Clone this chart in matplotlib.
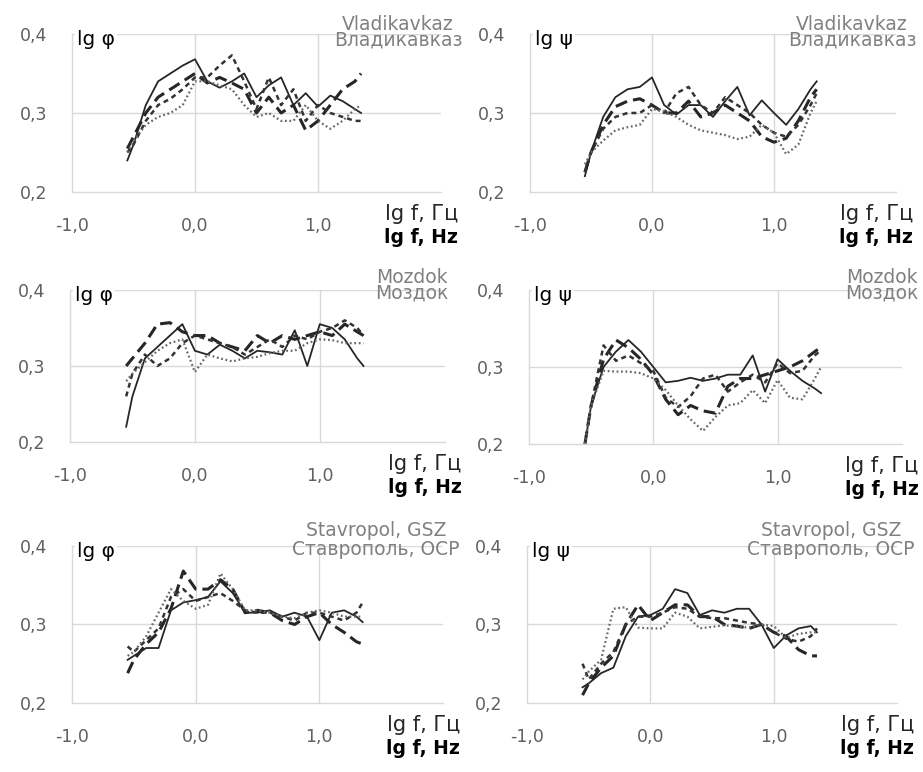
import numpy as np
import matplotlib
matplotlib.use("Agg")
import matplotlib.pyplot as plt
from matplotlib.ticker import FixedLocator

plt.rcParams['font.family'] = ['DejaVu Sans']

# lg f grid, common to all curves
freq = [-0.55, -0.5, -0.4, -0.3, -0.2, -0.1, 0.0, 0.1, 0.2, 0.3, 0.4,
        0.5, 0.6, 0.7, 0.8, 0.9, 1.0, 1.1, 1.2, 1.3, 1.35]

# Vladikavkaz, lg phi
vlad_phi_solid = [0.24, 0.26, 0.31, 0.34, 0.35, 0.36, 0.368, 0.34, 0.332, 0.34, 0.35,
                  0.32, 0.335, 0.345, 0.31, 0.325, 0.308, 0.322, 0.315, 0.305, 0.30]
vlad_phi_long = [0.255, 0.27, 0.30, 0.32, 0.33, 0.34, 0.35, 0.338, 0.345, 0.338, 0.33,
                 0.30, 0.32, 0.30, 0.31, 0.278, 0.29, 0.31, 0.33, 0.34, 0.35]
vlad_phi_short = [0.25, 0.26, 0.29, 0.31, 0.318, 0.33, 0.345, 0.345, 0.36, 0.373, 0.34,
                  0.305, 0.345, 0.31, 0.33, 0.29, 0.31, 0.30, 0.295, 0.29, 0.29]
vlad_phi_dot = [0.25, 0.265, 0.285, 0.295, 0.30, 0.31, 0.34, 0.34, 0.335, 0.33, 0.31,
                0.295, 0.30, 0.29, 0.29, 0.31, 0.29, 0.28, 0.29, 0.305, 0.31]

# Vladikavkaz, lg psi
vlad_psi_solid = [0.22, 0.25, 0.295, 0.32, 0.33, 0.333, 0.345, 0.31, 0.298, 0.31, 0.31,
                  0.295, 0.315, 0.333, 0.297, 0.316, 0.30, 0.285, 0.305, 0.33, 0.34]
vlad_psi_long = [0.225, 0.25, 0.285, 0.308, 0.315, 0.318, 0.31, 0.30, 0.30, 0.315, 0.295,
                 0.30, 0.31, 0.30, 0.29, 0.27, 0.263, 0.268, 0.29, 0.32, 0.33]
vlad_psi_short = [0.225, 0.25, 0.28, 0.295, 0.30, 0.30, 0.31, 0.30, 0.325, 0.333, 0.31,
                  0.30, 0.32, 0.31, 0.30, 0.285, 0.275, 0.27, 0.285, 0.31, 0.325]
vlad_psi_dot = [0.235, 0.25, 0.265, 0.278, 0.282, 0.285, 0.305, 0.302, 0.295, 0.285, 0.278,
                0.275, 0.272, 0.267, 0.27, 0.285, 0.275, 0.248, 0.26, 0.30, 0.315]

# Mozdok, lg phi
moz_phi_solid = [0.22, 0.26, 0.31, 0.325, 0.34, 0.355, 0.32, 0.315, 0.328, 0.32, 0.31,
                 0.32, 0.318, 0.315, 0.347, 0.30, 0.355, 0.35, 0.335, 0.31, 0.30]
moz_phi_long = [0.30, 0.31, 0.33, 0.355, 0.357, 0.345, 0.34, 0.34, 0.33, 0.325, 0.32,
                0.34, 0.33, 0.34, 0.335, 0.34, 0.345, 0.34, 0.355, 0.345, 0.34]
moz_phi_short = [0.26, 0.29, 0.315, 0.30, 0.31, 0.33, 0.34, 0.335, 0.33, 0.325, 0.315,
                 0.325, 0.335, 0.325, 0.34, 0.335, 0.345, 0.35, 0.36, 0.35, 0.34]
moz_phi_dot = [0.28, 0.29, 0.305, 0.32, 0.33, 0.335, 0.292, 0.315, 0.31, 0.306, 0.31,
               0.312, 0.317, 0.32, 0.32, 0.33, 0.335, 0.334, 0.33, 0.33, 0.33]

# Mozdok, lg psi
moz_psi_solid = [0.20, 0.25, 0.30, 0.32, 0.335, 0.32, 0.30, 0.28, 0.282, 0.286, 0.282,
                 0.285, 0.29, 0.29, 0.315, 0.268, 0.31, 0.295, 0.282, 0.272, 0.266]
moz_psi_long = [0.20, 0.25, 0.31, 0.335, 0.325, 0.31, 0.29, 0.258, 0.238, 0.25, 0.243,
                0.24, 0.275, 0.285, 0.285, 0.29, 0.295, 0.30, 0.308, 0.32, 0.326]
moz_psi_short = [0.20, 0.25, 0.328, 0.308, 0.315, 0.305, 0.295, 0.26, 0.248, 0.262, 0.285,
                 0.29, 0.268, 0.28, 0.29, 0.28, 0.305, 0.292, 0.295, 0.315, 0.322]
moz_psi_dot = [0.20, 0.25, 0.295, 0.294, 0.294, 0.292, 0.285, 0.27, 0.25, 0.232, 0.217,
               0.235, 0.25, 0.253, 0.27, 0.253, 0.283, 0.26, 0.258, 0.285, 0.30]

# Stavropol, lg phi
stav_phi_solid = [0.255, 0.26, 0.27, 0.27, 0.318, 0.328, 0.331, 0.335, 0.355, 0.34, 0.315,
                  0.315, 0.318, 0.31, 0.315, 0.31, 0.28, 0.315, 0.318, 0.31, 0.303]
stav_phi_long = [0.238, 0.255, 0.275, 0.29, 0.32, 0.368, 0.345, 0.345, 0.357, 0.345, 0.315,
                 0.318, 0.315, 0.305, 0.30, 0.31, 0.315, 0.30, 0.29, 0.278, 0.275]
stav_phi_short = [0.272, 0.265, 0.28, 0.295, 0.335, 0.345, 0.33, 0.335, 0.34, 0.33, 0.318,
                  0.315, 0.315, 0.31, 0.305, 0.315, 0.315, 0.31, 0.305, 0.315, 0.328]
stav_phi_dot = [0.26, 0.265, 0.285, 0.315, 0.345, 0.33, 0.32, 0.325, 0.365, 0.345, 0.318,
                0.318, 0.315, 0.31, 0.308, 0.315, 0.318, 0.315, 0.31, 0.31, 0.31]

# Stavropol, lg psi
stav_psi_solid = [0.22, 0.225, 0.238, 0.245, 0.285, 0.31, 0.312, 0.32, 0.345, 0.34, 0.312,
                  0.318, 0.315, 0.32, 0.32, 0.30, 0.27, 0.286, 0.295, 0.298, 0.29]
stav_psi_long = [0.21, 0.225, 0.245, 0.26, 0.30, 0.325, 0.305, 0.315, 0.325, 0.325, 0.31,
                 0.31, 0.30, 0.298, 0.295, 0.30, 0.29, 0.285, 0.268, 0.26, 0.26]
stav_psi_short = [0.25, 0.23, 0.25, 0.265, 0.30, 0.31, 0.31, 0.315, 0.322, 0.32, 0.31,
                  0.308, 0.308, 0.305, 0.302, 0.30, 0.29, 0.282, 0.278, 0.285, 0.295]
stav_psi_dot = [0.23, 0.24, 0.255, 0.32, 0.322, 0.296, 0.295, 0.295, 0.315, 0.31, 0.295,
                0.297, 0.299, 0.297, 0.296, 0.30, 0.298, 0.283, 0.288, 0.29, 0.29]

x_ticks = [-1.0, 0.0, 1.0, 2.0]
x_ticklabels = ["-1,0", "0,0", "1,0", ""]
y_ticks = [0.2, 0.3, 0.4]
y_ticklabels = ["0,2", "0,3", "0,4"]

panels = [
    # position, curves, y-label, station text, centre offset (px from right), top offset (px), line spacing
    ([0.078, 0.7513, 0.3998, 0.2047], [vlad_phi_solid, vlad_phi_long, vlad_phi_short, vlad_phi_dot],
     "lg φ", "Vladikavkaz\nВладикавказ", -43, 19, 0.78),
    ([0.5742, 0.7513, 0.3965, 0.2047], [vlad_psi_solid, vlad_psi_long, vlad_psi_short, vlad_psi_dot],
     "lg ψ", "Vladikavkaz\nВладикавказ", -44, 19, 0.78),
    ([0.0758, 0.4275, 0.406, 0.1969], [moz_phi_solid, moz_phi_long, moz_phi_short, moz_phi_dot],
     "lg φ", "Mozdok\nМоздок", -33, 22, 0.78),
    ([0.5731, 0.4249, 0.404, 0.1995], [moz_psi_solid, moz_psi_long, moz_psi_short, moz_psi_dot],
     "lg ψ", "Mozdok\nМоздок", -20, 22, 0.78),
    ([0.078, 0.0894, 0.402, 0.2034], [stav_phi_solid, stav_phi_long, stav_phi_short, stav_phi_dot],
     "lg φ", "Stavropol, GSZ\nСтаврополь, OCP", -67, 25, 0.98),
    ([0.571, 0.0894, 0.401, 0.2034], [stav_psi_solid, stav_psi_long, stav_psi_short, stav_psi_dot],
     "lg ψ", "Stavropol, GSZ\nСтаврополь, OCP", -66, 25, 0.98),
]

styles = [
    dict(color="#262626", lw=1.3, linestyle="-"),
    dict(color="#262626", lw=2.2, linestyle=(0, (4, 2))),
    dict(color="#333333", lw=1.8, linestyle=(0, (2, 1.6))),
    dict(color="#666666", lw=1.6, linestyle=(0, (0.8, 1.2))),
]

grid_c = "#d9d9d9"
tick_c = "#606060"
px = 0.72  # pixels -> points at 100 dpi

fig = plt.figure(figsize=(9.23, 7.72), dpi=100)

for pos, curves, ylab, station, cx, top, lsp in panels:
    ax = fig.add_axes(pos)
    for vals, st in zip(curves, styles):
        ax.plot(freq, vals, solid_joinstyle="round", dash_capstyle="butt", **st)
    ax.set_xlim(-1, 2)
    ax.set_ylim(0.2, 0.4)
    ax.set_xticks(x_ticks)
    ax.set_xticklabels(x_ticklabels)
    ax.set_yticks(y_ticks)
    ax.set_yticklabels(y_ticklabels)
    ax.xaxis.set_minor_locator(FixedLocator([-1.0, 2.0]))
    ax.tick_params(which="major", length=0, pad=18, labelsize=12.5, labelcolor=tick_c)
    ax.tick_params(axis="x", which="minor", length=7, width=1, color=grid_c, direction="out")
    ax.tick_params(axis="y", which="minor", length=0)
    for s in ["top", "right"]:
        ax.spines[s].set_visible(False)
    for s in ["left", "bottom"]:
        ax.spines[s].set_color(grid_c)
        ax.spines[s].set_linewidth(1)
    for v in [0.0, 1.0]:
        ax.axvline(v, color=grid_c, lw=1, zorder=0)
    for h in [0.3, 0.4]:
        ax.axhline(h, color=grid_c, lw=1, zorder=0)

    ax.annotate(ylab, xy=(0, 1), xycoords="axes fraction", xytext=(5 * px, -11 * px),
                textcoords="offset points", ha="left", va="baseline", fontsize=14.5,
                color="black", annotation_clip=False,
                bbox=dict(boxstyle="square,pad=0.1", fc="white", ec="none"))
    ax.annotate(station, xy=(1, 1), xycoords="axes fraction", xytext=(cx * px, top * px),
                textcoords="offset points", ha="center", va="top", ma="center",
                linespacing=lsp, fontsize=13.5, color="#808080", annotation_clip=False)
    ax.annotate("lg f, Гц", xy=(1, 0), xycoords="axes fraction", xytext=(17 * px, -28 * px),
                textcoords="offset points", ha="right", va="baseline", fontsize=15,
                color="#262626", annotation_clip=False)
    ax.annotate("lg f, Hz", xy=(1, 0), xycoords="axes fraction", xytext=(17 * px, -51 * px),
                textcoords="offset points", ha="right", va="baseline", fontsize=13.5,
                fontweight="bold", color="black", annotation_clip=False)

fig.savefig("out.png", dpi=100, facecolor="white")
